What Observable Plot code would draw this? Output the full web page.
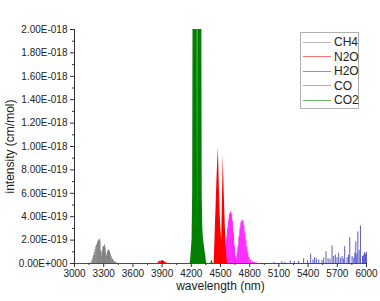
<!DOCTYPE html>
<html>
<head>
<meta charset="utf-8">
<script src="https://cdn.jsdelivr.net/npm/d3@7"></script>
<script src="https://cdn.jsdelivr.net/npm/@observablehq/plot@0.6"></script>
<style>
  html, body { margin: 0; padding: 0; background: #fff; }
  #wrap { position: relative; width: 380px; height: 301px; font-family: "Liberation Sans", Arial, sans-serif; }
  #legend { position: absolute; left: 300px; top: 32px; width: 59px; height: 77px; border: 1px solid #b0b0b0; background: #fff; box-sizing: border-box; }
  .item { position: absolute; left: 2px; height: 14px; display: flex; align-items: center; font-size: 12px; color: #222; }
  .item span.line { display: inline-block; width: 28px; height: 0; border-top: 1px solid; margin-right: 3px; }
</style>
</head>
<body>
<div id="wrap"></div>
<script>
// ---- data (intensity in units of 1E-019 cm/mol) ----
const series = ["CH4", "N2O", "H2O", "CO", "CO2"];
const colors = ["#808080", "#ff0000", "#3030c0", "#ff00ff", "#008000"];

const ch4W = [3172,3180,3188,3196,3204,3212,3220,3228,3236,3244,3250,3256,3262,3268,3274,3280,3286,3292,3298,3304,3309,3315,3321,3327,3333,3339,3345,3350,3355,3361,3368,3375,3382,3390,3398,3406,3414,3422,3430];
const ch4V = [0.1,0.25,0.45,0.7,0.95,1.2,1.45,1.6,1.8,1.95,2.0,2.06,1.9,1.1,0.9,0.6,1.1,1.4,1.45,1.2,1.58,1.35,0.9,0.6,0.7,1.0,1.1,1.16,1.1,0.95,0.8,0.6,0.45,0.35,0.25,0.18,0.12,0.08,0.04];

const n2oW = [3860,3872,3884,3895,3905,3915,3927,3940, 4435,4445,4455,4465,4478,4490,4500,4512,4520,4528,4538,4548,4558,4568,4575];
const n2oV = [0.1,0.2,0.15,0.25,0.22,0.18,0.12,0.06, 0,2.5,5.0,7.5,9.9,6.0,3.5,1.9,5.5,9.2,6.0,3.5,1.5,0.3,0];

const h2oW = [5050,5130,5160,5216,5260,5300,5354,5395,5426,5450,5467,5485,5510,5543,5560,5584,5605,5625,5646,5663,5680,5697,5714,5732,5749,5762,5776,5801,5815,5828,5852,5869,5880,5890,5900,5911,5925,5938,5959,5970,5979,5990,6000];
const h2oV = [0.1,0.15,0.1,0.23,0.15,0.2,0.4,0.25,0.8,0.3,0.5,0.4,0.3,0.23,0.45,1.0,0.4,0.35,1.5,0.6,0.73,0.5,0.87,0.45,0.6,0.4,1.44,0.5,0.7,2.2,0.6,0.45,0.9,1.86,0.8,2.7,1.1,3.2,0.6,0.7,0.93,0.8,0.96];

const coW = [4525,4535,4545,4555,4565,4575,4585,4595,4605,4615,4625,4635,4645,4655,4663,4672,4682,4692,4702,4712,4722,4732,4742,4752,4762,4772,4782,4795,4810,4830,4850,4870,4887];
const coV = [0,0.4,0.9,1.5,2.2,3.0,3.7,4.2,4.4,4.2,3.6,2.6,1.5,0.6,0.3,0.8,1.5,2.3,3.0,3.5,3.7,3.6,3.2,2.6,2.0,1.4,0.9,0.5,0.3,0.15,0.08,0.04,0];

const co2W = [4188,4195,4202,4208,4214,4219,4224,4229,4234,4240,4246,4252,4257,4261,4264,4267,4271,4276,4281,4287,4293,4299,4304,4308,4312,4318,4326,4334,4342,4350,4358, 4400,4412,4424];
const co2V = [0,0.5,1.3,2.0,6,26,32,35,36,35,34,32,30,26,1.9,24,30,33,34,33,31,28,25,22,6,3,2,1.5,1.0,0.5,0, 0,0.3,0];

const xMajor = [3000,3300,3600,3900,4200,4500,4800,5100,5400,5700,6000];
const xMinor = [3150,3450,3750,4050,4350,4650,4950,5250,5550,5850];
const yMajor = [0,2,4,6,8,10,12,14,16,18,20];
const yMinor = [1,3,5,7,9,11,13,15,17,19];

// ---- tables ----
const rows = (W, V) => W.map((w, i) => ({w, v: V[i]}));
const ch4 = rows(ch4W, ch4V), n2o = rows(n2oW, n2oV), h2o = rows(h2oW, h2oV), co = rows(coW, coV), co2 = rows(co2W, co2V);
const n2oBand = n2o.filter(d => d.w > 4400), n2oSmall = n2o.filter(d => d.w < 4400);

const fmtY = v => v === 0 ? "0.00E+000" : (v >= 10 ? (v / 10).toFixed(2) + "E-018" : v.toFixed(2) + "E-019");

const chart = Plot.plot({
  width: 380, height: 301,
  marginTop: 29, marginBottom: 38, marginLeft: 74, marginRight: 14,
  style: { fontFamily: "Liberation Sans, Arial, sans-serif", fontSize: "10px", color: "#222", background: "#fff", overflow: "visible" },
  x: { domain: [3000, 6000] },
  y: { domain: [0, 20] },
  marks: [
    Plot.ruleX(ch4, { x: "w", y1: 0, y2: "v", stroke: colors[0], strokeWidth: 1 }),
    Plot.ruleX(n2oSmall, { x: "w", y1: 0, y2: "v", stroke: colors[1], strokeWidth: 1.2 }),
    Plot.ruleX(h2o, { x: "w", y1: 0, y2: "v", stroke: colors[2], strokeWidth: 0.8 }),
    Plot.areaY(co, { x: "w", y: "v", fill: "#ff66ff", fillOpacity: 0.75 }),
    Plot.ruleX(co, { x: "w", y1: 0, y2: "v", stroke: colors[3], strokeWidth: 0.8 }),
    Plot.areaY(n2oBand, { x: "w", y: "v", fill: colors[1] }),
    Plot.areaY(co2, { x: "w", y: "v", fill: colors[4], clip: true }),
    Plot.ruleY([0], { stroke: "#3a5a3a" }),
    Plot.ruleX([3000], { stroke: "#333" }),
    Plot.axisX(xMinor, { tickSize: 2, tickFormat: () => "", label: null, stroke: "#333" }),
    Plot.axisX(xMajor, { tickSize: 4, tickPadding: 2, tickFormat: d => String(d), label: null, stroke: "#333", fontSize: 10 }),
    Plot.axisX([], { tickSize: 0, label: "wavelength (nm)", labelAnchor: "center", labelArrow: "none", labelOffset: 26, fontSize: 12 }),
    Plot.axisY(yMinor, { tickSize: 2, tickFormat: () => "", label: null, stroke: "#333" }),
    Plot.axisY(yMajor, { tickSize: 4, tickPadding: 3, tickFormat: fmtY, label: null, stroke: "#333", fontSize: 10 }),
    Plot.axisY([], { tickSize: 0, label: "intensity (cm/mol)", labelAnchor: "center", labelArrow: "none", labelOffset: 69, fontSize: 12 })
  ]
});

const wrap = document.getElementById("wrap");
wrap.appendChild(chart);

const legend = document.createElement("div");
legend.id = "legend";
series.forEach((s, i) => {
  const it = document.createElement("div");
  it.className = "item";
  it.style.top = (2 + i * 14.6) + "px";
  const ln = document.createElement("span");
  ln.className = "line";
  ln.style.borderTopColor = colors[i];
  ln.style.opacity = 0.55;
  it.appendChild(ln);
  it.appendChild(document.createTextNode(s));
  legend.appendChild(it);
});
wrap.appendChild(legend);
</script>
</body>
</html>
